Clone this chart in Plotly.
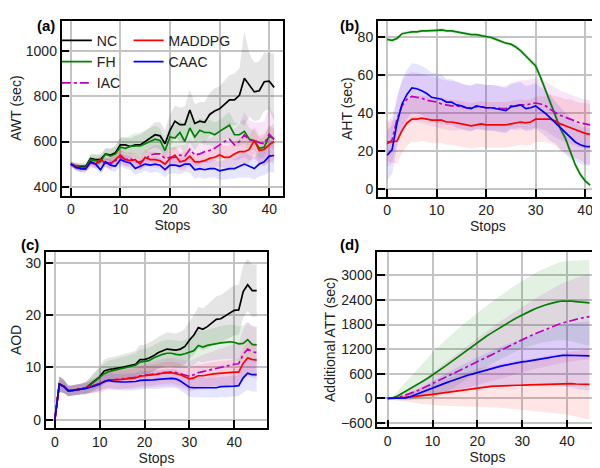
import plotly.graph_objects as go

FONT = "Liberation Sans, Arial, sans-serif"

names = ["NC", "FH", "IAC", "MADDPG", "CAAC"]
colors = {"NC": "#000000", "FH": "#008000", "IAC": "#bf00bf", "MADDPG": "#ff0000", "CAAC": "#0000ff"}
bands = {"NC": "rgba(0,0,0,0.10)", "FH": "rgba(0,128,0,0.11)", "IAC": "rgba(191,0,191,0.10)",
         "MADDPG": "rgba(255,0,0,0.10)", "CAAC": "rgba(0,0,255,0.10)"}

# ---------- (a) AWT ----------
stops_a = list(range(42))
awt_nc = [500, 490, 490, 490, 525, 520, 520, 545, 540, 550, 585, 585, 578, 585, 585, 600, 615, 630, 625, 590,
          650, 690, 675, 675, 740, 680, 690, 685, 720, 735, 745, 765, 785, 785, 805, 880, 850, 820, 825, 865, 868, 840]
awt_fh = [500, 490, 485, 485, 520, 515, 510, 545, 535, 545, 575, 570, 578, 580, 580, 590, 600, 610, 605, 560,
          620, 615, 640, 600, 660, 620, 650, 640, 640, 630, 645, 660, 672, 630, 630, 645, 610, 605, 570, 575, 625, 610]
awt_iac = [500, 488, 480, 482, 505, 500, 510, 505, 505, 515, 530, 520, 525, 510, 510, 520, 540, 545, 545, 525,
           530, 530, 540, 535, 565, 540, 545, 555, 560, 570, 585, 600, 610, 585, 600, 630, 605, 605, 595, 590, 632, 610]
awt_maddpg = [500, 490, 480, 482, 510, 500, 520, 505, 500, 520, 540, 520, 515, 520, 500, 530, 520, 520, 515, 500,
              525, 540, 510, 515, 535, 510, 510, 515, 525, 530, 540, 530, 530, 545, 555, 555, 565, 605, 560, 565, 585, 600]
awt_caac = [500, 485, 480, 478, 510, 500, 475, 510, 495, 490, 520, 510, 505, 480, 490, 500, 495, 500, 495, 475,
            495, 495, 490, 500, 500, 475, 480, 475, 480, 480, 470, 475, 480, 480, 490, 500, 490, 480, 500, 510, 535, 538]
awt_nc_sd = [10, 15, 15, 15, 20, 25, 25, 25, 30, 30, 35, 35, 35, 40, 45, 45, 50, 55, 60, 60,
             70, 70, 75, 80, 90, 85, 85, 90, 95, 100, 100, 105, 110, 115, 120, 210, 140, 130, 130, 130, 125, 150]
awt_fh_sd = [10, 15, 15, 15, 20, 25, 25, 25, 30, 35, 40, 45, 50, 55, 60, 60, 60, 60, 55, 50,
             55, 55, 60, 60, 65, 60, 55, 55, 55, 55, 50, 55, 60, 55, 50, 55, 50, 45, 45, 45, 45, 45]
awt_iac_sd = [10, 15, 15, 15, 20, 20, 20, 20, 25, 25, 30, 30, 30, 30, 35, 35, 35, 40, 40, 40,
              45, 45, 45, 50, 55, 50, 50, 50, 55, 55, 60, 70, 80, 70, 80, 100, 90, 80, 90, 100, 120, 110]
awt_maddpg_sd = [10, 15, 15, 15, 20, 20, 20, 20, 25, 25, 30, 30, 30, 30, 30, 35, 35, 35, 35, 35,
                 40, 40, 40, 40, 45, 40, 40, 40, 45, 45, 50, 50, 55, 55, 60, 70, 60, 60, 65, 70, 80, 80]
awt_caac_sd = [10, 15, 15, 15, 20, 20, 20, 20, 25, 25, 30, 30, 30, 30, 30, 30, 35, 35, 35, 35,
               35, 35, 35, 35, 40, 40, 40, 40, 40, 40, 40, 45, 45, 45, 50, 60, 50, 50, 55, 60, 70, 75]

# ---------- (b) AHT ----------
stops_b = list(range(42))
aht_fh = [79, 78.5, 79.5, 82, 82.5, 83, 83, 83.5, 83.5, 83.5, 83.8, 84, 83.5, 83.5, 83, 82.5, 82, 81.5, 81.5, 81,
          80.5, 80, 79, 78, 77, 76.5, 75, 73, 70.5, 68, 65, 59, 52, 45, 38, 32, 27, 20, 13, 8, 4.5, 2.3]
aht_iac = [24, 26, 37, 44, 47.5, 49, 48.5, 48, 47, 46.5, 46, 45, 44.5, 44, 44, 43.5, 43, 43, 43.5, 43.5,
           43, 43, 43, 42.5, 42.5, 44, 44, 44.5, 44.5, 45, 45.5, 45, 44, 42, 40.5, 39, 38, 37, 36, 35, 34.5, 34]
aht_maddpg = [25, 25, 25.5, 31, 35, 37, 37, 37.5, 37, 36.5, 36.5, 36.5, 35.5, 35.5, 35, 34.5, 34, 33.5, 34, 34.5,
              34, 34, 34, 34, 34, 34.5, 35, 35.5, 35, 35.5, 37, 37, 37, 37, 36, 34.5, 33.5, 32.5, 31.5, 30.5, 29.5, 29]
aht_caac = [18, 21, 35, 45, 50, 53.5, 53, 52, 50.5, 48.5, 48, 47.5, 46, 46, 44.5, 44, 43, 42.5, 44, 43.5,
            43, 43, 42.5, 42, 41.5, 43.5, 44, 44.5, 42.5, 43, 44, 42, 40, 37.5, 35, 32, 29.5, 27, 25, 23.5, 22.7, 22.5]
aht_fh_sd = [1, 1, 1, 1, 1, 1, 1, 1, 1, 1, 1, 1, 1, 1, 1, 1, 1, 1, 1, 1,
             1, 1, 1, 1, 1, 1, 1.2, 1.4, 1.6, 1.8, 2, 2, 2, 2, 2, 2, 2, 2, 2, 1.5, 1.2, 1]
aht_iac_sd = [12, 12, 12, 13, 13, 13, 13, 13, 13, 13, 13, 13, 13, 13, 13, 12, 12, 12, 12, 12,
              12, 12, 12, 12, 12, 12, 13, 13, 13, 13, 13, 13, 13, 13, 13, 13, 13, 13, 13, 13, 13, 13]
aht_maddpg_sd = [10, 11, 12, 12, 12, 12, 12, 12, 12, 12, 12, 12, 12, 12, 12, 12, 12, 12, 12, 12,
                 12, 12, 12, 12, 12, 12, 12, 12, 12, 12, 12, 12, 12, 13, 13, 14, 14, 15, 15, 15, 16, 16]
aht_caac_sd = [13, 13, 13, 13, 13, 13, 13, 13, 13, 13, 13, 13, 12, 12, 12, 12, 12, 12, 12, 12,
               12, 12, 12, 12, 12, 12, 12, 12, 12, 12, 12, 12, 12, 12, 11, 11, 11, 11, 10, 10, 10, 10]

# ---------- (c) AOD ----------
stops_c = list(range(46))
aod_nc = [0, 6.8, 6.4, 5.5, 5.6, 5.7, 5.9, 6.1, 6.8, 7.5, 8.2, 9.3, 9.6, 9.7, 9.8, 10.0, 10.2, 10.4, 10.6, 11.5,
          11.5, 11.8, 12.2, 12.8, 13.2, 13.5, 13.4, 13.3, 13.5, 14.0, 15.2, 16.2, 17.6, 17.3, 17.8, 18.5, 19.2, 19.3,
          19.8, 20.3, 20.9, 21.0, 24.5, 25.8, 24.7, 24.7]
aod_fh = [0, 6.8, 6.4, 5.5, 5.6, 5.7, 5.9, 6.0, 6.7, 7.4, 8.0, 8.8, 9.2, 9.4, 9.6, 9.8, 10.0, 10.2, 10.4, 11.0,
          11.1, 11.3, 11.8, 12.2, 12.5, 12.7, 12.7, 12.5, 12.4, 12.6, 12.9, 13.2, 14.2, 13.9, 14.2, 14.4, 14.6, 14.7,
          14.8, 14.9, 14.8, 14.5, 14.6, 15.3, 14.4, 14.3]
aod_iac = [0, 6.8, 6.4, 5.5, 5.6, 5.7, 5.9, 6.1, 6.3, 6.6, 6.9, 7.3, 7.6, 7.6, 7.7, 7.8, 7.9, 8.0, 8.1, 8.4,
           8.5, 8.5, 8.7, 8.8, 9.0, 9.1, 9.1, 9.0, 8.8, 8.6, 8.3, 8.6, 9.0, 9.2, 9.4, 9.6, 9.9, 10.0,
           10.2, 10.4, 10.6, 10.7, 12.5, 13.5, 13.0, 12.8]
aod_maddpg = [0, 6.8, 6.4, 5.5, 5.6, 5.7, 5.9, 6.1, 6.3, 6.6, 6.9, 7.3, 7.6, 7.6, 7.6, 7.7, 7.8, 7.9, 8.0, 8.3,
              8.4, 8.4, 8.6, 8.7, 8.9, 9.0, 9.0, 8.8, 8.6, 8.2, 7.8, 8.0, 8.4, 8.4, 8.6, 8.7, 8.8, 8.9,
              9.0, 9.1, 9.1, 9.1, 10.8, 11.8, 11.5, 11.4]
aod_caac = [0, 6.8, 6.3, 5.5, 5.6, 5.7, 5.8, 6.0, 6.2, 6.5, 6.8, 7.3, 7.5, 7.3, 7.2, 7.2, 7.2, 7.2, 7.3, 7.5,
            7.5, 7.6, 7.6, 7.7, 7.8, 7.9, 7.9, 7.8, 7.4, 6.8, 6.2, 6.1, 6.1, 6.1, 6.1, 6.2, 6.1, 6.3,
            6.3, 6.4, 6.4, 6.5, 8.0, 8.9, 8.6, 8.6]
aod_nc_sd = [0, 1.5, 1.3, 1.0, 1.0, 1.0, 1.0, 1.2, 1.5, 1.8, 2.0, 2.2, 2.3, 2.3, 2.4, 2.4, 2.5, 2.5, 2.6, 2.8,
             2.8, 2.9, 3.0, 3.0, 3.1, 3.2, 3.2, 3.2, 3.3, 3.4, 3.6, 3.8, 4.0, 4.0, 4.2, 4.3, 4.4, 4.5, 4.6, 4.7,
             4.8, 4.8, 5.0, 5.0, 5.0, 5.0]
aod_fh_sd = [0, 1.5, 1.3, 1.0, 1.0, 1.0, 1.0, 1.2, 1.5, 1.8, 2.0, 2.0, 2.1, 2.1, 2.2, 2.2, 2.2, 2.3, 2.3, 2.4,
             2.4, 2.5, 2.5, 2.5, 2.6, 2.6, 2.6, 2.6, 2.6, 2.7, 2.8, 2.9, 3.0, 3.0, 3.0, 3.1, 3.1, 3.2, 3.2, 3.3,
             3.3, 3.3, 3.4, 3.4, 3.4, 3.4]
aod_iac_sd = [0, 1.5, 1.3, 1.0, 1.0, 1.0, 1.0, 1.1, 1.3, 1.5, 1.7, 1.8, 1.9, 2.0, 2.0, 2.1, 2.1, 2.2, 2.2, 2.3,
              2.4, 2.4, 2.5, 2.5, 2.6, 2.7, 2.7, 2.7, 2.8, 2.8, 2.9, 3.0, 3.1, 3.2, 3.3, 3.4, 3.5, 3.6, 3.7, 3.8,
              3.9, 4.0, 4.8, 5.2, 5.0, 5.0]
aod_maddpg_sd = [0, 1.5, 1.3, 1.0, 1.0, 1.0, 1.0, 1.1, 1.2, 1.3, 1.4, 1.5, 1.6, 1.6, 1.7, 1.7, 1.8, 1.8, 1.8, 1.9,
                 1.9, 2.0, 2.0, 2.0, 2.1, 2.1, 2.1, 2.1, 2.1, 2.1, 2.1, 2.2, 2.2, 2.2, 2.3, 2.3, 2.3, 2.4, 2.4, 2.4,
                 2.4, 2.5, 2.8, 3.0, 3.0, 3.0]
aod_caac_sd = [0, 1.4, 1.2, 1.0, 1.0, 1.0, 1.0, 1.0, 1.1, 1.2, 1.3, 1.4, 1.5, 1.5, 1.5, 1.5, 1.6, 1.6, 1.6, 1.7,
               1.7, 1.7, 1.8, 1.8, 1.8, 1.8, 1.8, 1.8, 1.8, 1.8, 1.8, 1.8, 1.8, 1.8, 1.9, 1.9, 1.9, 1.9, 2.0, 2.0,
               2.0, 2.0, 2.8, 3.2, 3.2, 3.2]

# ---------- (d) Additional ATT ----------
stops_d = list(range(46))
att_fh = [0, 10, 50, 110, 170, 235, 300, 365, 430, 500, 570, 645, 720, 800, 880, 960, 1040, 1120, 1200, 1285,
          1373, 1445, 1515, 1585, 1655, 1725, 1790, 1855, 1920, 1980, 2040, 2090, 2140, 2190, 2235, 2270, 2305,
          2335, 2360, 2375, 2380, 2370, 2360, 2350, 2340, 2330]
att_iac = [0, 5, 20, 45, 80, 115, 160, 205, 255, 310, 365, 418, 470, 522, 575, 628, 682, 735, 790, 845,
           905, 958, 1012, 1066, 1120, 1173, 1226, 1280, 1333, 1386, 1440, 1488, 1535, 1582, 1628, 1673, 1716,
           1758, 1800, 1838, 1872, 1900, 1928, 1952, 1975, 1995]
att_maddpg = [0, 0, 5, 15, 25, 40, 50, 62, 75, 85, 97, 112, 128, 145, 162, 180, 198, 215, 232, 248,
              262, 272, 282, 292, 300, 307, 313, 318, 320, 321, 322, 325, 328, 332, 336, 340, 346, 352, 360, 366,
              368, 360, 352, 348, 345, 342]
att_caac = [0, 0, 0, 5, 15, 40, 85, 130, 175, 220, 262, 300, 340, 380, 420, 460, 500, 535, 570, 600,
            632, 665, 695, 725, 755, 780, 805, 830, 855, 873, 890, 905, 920, 940, 960, 975, 995, 1015, 1035, 1048,
            1052, 1045, 1040, 1038, 1037, 1035]
att_fh_sd = [0, 40, 100, 160, 220, 280, 340, 400, 455, 510, 560, 590, 615, 640, 660, 675, 690, 700, 710, 720,
             727, 735, 745, 755, 765, 775, 785, 795, 805, 815, 825, 840, 855, 870, 885, 900, 915, 930, 945, 960,
             970, 985, 1000, 1015, 1030, 1050]
att_iac_sd = [0, 10, 30, 55, 80, 105, 135, 165, 200, 235, 270, 300, 335, 365, 395, 425, 455, 485, 515, 545,
              575, 600, 625, 650, 675, 700, 720, 740, 760, 780, 800, 820, 840, 860, 880, 900, 920, 940, 955, 970,
              985, 1000, 1010, 1020, 1030, 1045]
att_maddpg_sd = [0, 20, 40, 70, 100, 130, 160, 185, 210, 235, 260, 285, 305, 325, 345, 365, 385, 405, 425, 445,
                 460, 475, 490, 505, 520, 535, 550, 565, 580, 595, 610, 625, 640, 655, 670, 685, 700, 715, 730, 745,
                 760, 780, 800, 820, 840, 860]
att_caac_sd = [0, 5, 15, 30, 50, 70, 90, 110, 130, 150, 170, 190, 210, 230, 250, 270, 290, 310, 330, 350,
               370, 390, 410, 430, 450, 470, 490, 510, 530, 550, 570, 590, 610, 630, 650, 670, 690, 710, 730, 750,
               770, 790, 805, 820, 835, 850]

panels = [
    ("x", "y", stops_a, {"NC": (awt_nc, awt_nc_sd), "FH": (awt_fh, awt_fh_sd), "IAC": (awt_iac, awt_iac_sd),
                         "MADDPG": (awt_maddpg, awt_maddpg_sd), "CAAC": (awt_caac, awt_caac_sd)}),
    ("x2", "y2", stops_b, {"FH": (aht_fh, aht_fh_sd), "IAC": (aht_iac, aht_iac_sd),
                           "MADDPG": (aht_maddpg, aht_maddpg_sd), "CAAC": (aht_caac, aht_caac_sd)}),
    ("x3", "y3", stops_c, {"NC": (aod_nc, aod_nc_sd), "FH": (aod_fh, aod_fh_sd), "IAC": (aod_iac, aod_iac_sd),
                           "MADDPG": (aod_maddpg, aod_maddpg_sd), "CAAC": (aod_caac, aod_caac_sd)}),
    ("x4", "y4", stops_d, {"FH": (att_fh, att_fh_sd), "IAC": (att_iac, att_iac_sd),
                           "MADDPG": (att_maddpg, att_maddpg_sd), "CAAC": (att_caac, att_caac_sd)}),
]

fig = go.Figure()
for xa, ya, xs, series in panels:
    for name in names:
        if name not in series:
            continue
        m, sd = series[name]
        up = [a + b for a, b in zip(m, sd)]
        lo = [a - b for a, b in zip(m, sd)]
        fig.add_trace(go.Scatter(x=xs, y=up, xaxis=xa, yaxis=ya, mode="lines", line=dict(width=0),
                                 showlegend=False, hoverinfo="skip"))
        fig.add_trace(go.Scatter(x=xs, y=lo, xaxis=xa, yaxis=ya, mode="lines", line=dict(width=0),
                                 fill="tonexty", fillcolor=bands[name], showlegend=False, hoverinfo="skip"))
for xa, ya, xs, series in panels:
    for name in names:
        if name not in series:
            continue
        m, sd = series[name]
        leg = "legend"
        if xa == "x" and name in ("MADDPG", "CAAC"):
            leg = "legend2"
        fig.add_trace(go.Scatter(x=xs, y=m, xaxis=xa, yaxis=ya, mode="lines", name=name,
                                 line=dict(color=colors[name], width=1.7,
                                           dash="dashdot" if name == "IAC" else "solid"),
                                 showlegend=(xa == "x"), legend=leg, hoverinfo="skip"))

# page body has an 8px margin: figure pixel = page pixel - 8
OFF = 8
W, H = 600 - OFF, 468 - OFF
def dx(a, b):
    return [(a - OFF) / W, min((b - OFF) / W, 1.0)]
def dy(top, bot):
    return [1 - (bot - OFF) / H, 1 - (top - OFF) / H]
def px(x):
    return (x - OFF) / W
def py(y):
    return 1 - (y - OFF) / H

axis_common = dict(showgrid=True, gridcolor="#c4c4c4", gridwidth=1.5, zeroline=False,
                   showline=True, linecolor="black", linewidth=1.5, mirror=True,
                   ticks="inside", ticklen=8, tickwidth=1.5, tickcolor="black", ticklabeloverflow="allow",
                   tickfont=dict(family=FONT, size=14, color="#222"), title_font=dict(family=FONT, size=14, color="#222"),
                   title_standoff=2)

fig.update_layout(
    width=W, height=H, margin=dict(l=0, r=0, t=0, b=0),
    paper_bgcolor="white", plot_bgcolor="white", showlegend=True,
    font=dict(family=FONT, size=14, color="#222"),
    xaxis=dict(domain=dx(61.7, 284), range=[-1.87, 42.8], tickvals=[0, 10, 20, 30, 40], title_text="Stops",
               anchor="y", **axis_common),
    yaxis=dict(domain=dy(20.7, 197.3), range=[360, 1136], tickvals=[400, 600, 800, 1000], title_text="AWT (sec)",
               anchor="x", **axis_common),
    xaxis2=dict(domain=dx(379, 600.6), range=[-1.9, 42.6], tickvals=[0, 10, 20, 30, 40], title_text="Stops",
                anchor="y2", **axis_common),
    yaxis2=dict(domain=dy(20.7, 198.3), range=[-3.8, 88.9], tickvals=[0, 20, 40, 60, 80], title_text="AHT (sec)",
                anchor="x2", **axis_common),
    xaxis3=dict(domain=dx(45.7, 268.3), range=[-2.07, 47.4], tickvals=[0, 10, 20, 30, 40], title_text="Stops",
                anchor="y3", **axis_common),
    yaxis3=dict(domain=dy(254, 431.7), range=[-1.6, 32.1], tickvals=[0, 10, 20, 30], title_text="AOD",
                anchor="x3", **axis_common),
    xaxis4=dict(domain=dx(378.3, 602), range=[-2.38, 46.9], tickvals=[0, 10, 20, 30, 40], title_text="Stops",
                anchor="y4", **axis_common),
    yaxis4=dict(domain=dy(254, 431), range=[-704, 3572], tickvals=[-600, 0, 600, 1200, 1800, 2400, 3000],
                title_text="Additional ATT (sec)", anchor="x4", **axis_common),
    legend=dict(x=px(57), y=py(25), xanchor="left", yanchor="top", bgcolor="rgba(0,0,0,0)",
                font=dict(family=FONT, size=14, color="#222"), tracegroupgap=0, traceorder="normal"),
    legend2=dict(x=px(129), y=py(25), xanchor="left", yanchor="top", bgcolor="rgba(0,0,0,0)",
                 font=dict(family=FONT, size=14, color="#222"), tracegroupgap=0, traceorder="normal"),
)

labels = [("(a)", 35, 15), ("(b)", 351, 15), ("(c)", 19, 247), ("(d)", 351, 247)]
for txt, lx, ly in labels:
    fig.add_annotation(text="<b>%s</b>" % txt, xref="paper", yref="paper", x=px(lx), y=py(ly),
                       showarrow=False, font=dict(family=FONT, size=15, color="black"))

fig.write_html("out.html")
